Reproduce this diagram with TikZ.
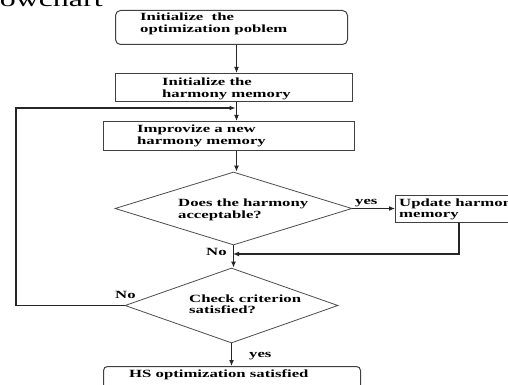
\documentclass[tikz,border=0pt]{standalone}
\usepackage{fontspec}
\setmainfont{Liberation Serif}
\newfontfamily\wideserif[FakeStretch=1.52]{Liberation Serif}
\usetikzlibrary{shapes.geometric,arrows.meta}
\begin{document}
\begin{tikzpicture}[x=1pt,y=-1pt,
  box/.style={draw=black!75, line width=1pt, rectangle, inner sep=0pt, anchor=north west},
  dia/.style={draw=black!70, line width=0.8pt, diamond, inner sep=0pt},
  txt/.style={font=\wideserif\bfseries\fontsize{11}{12}\selectfont, anchor=base west, inner sep=0pt},
  arr/.style={line width=1.2pt, draw=black!85, -{Latex[length=6pt,width=5pt]}},
  ln/.style={line width=1.2pt, draw=black!85}]
\useasboundingbox (0,0) rectangle (508,385);
\clip (0,0) rectangle (508,385);
% title (cut off at the top)
\node[font=\wideserif\fontsize{21}{24}\selectfont, anchor=base west, inner sep=0pt] (title) at (-27,7) {Flowchart};
% boxes
\node[box, rounded corners=5pt, minimum width=232pt, minimum height=34pt] (b1) at (115,10) {};
\node[box, minimum width=237pt, minimum height=28pt] (b2) at (115,73) {};
\node[box, minimum width=251pt, minimum height=29pt] (b3) at (103,121) {};
\node[dia, minimum width=237pt, minimum height=73pt] (d1) at (233.5,208.5) {};
\node[box, minimum width=130pt, minimum height=27pt] (up) at (395,195) {};
\node[dia, minimum width=213pt, minimum height=75pt] (d2) at (231.5,305.5) {};
\node[box, rounded corners=4pt, minimum width=257pt, minimum height=30pt] (fb) at (103,366) {};
% texts
\node[txt] (t1a) at (140,21) {Initialize\ \ the};
\node[txt] (t1b) at (140,33) {optimization poblem};
\node[txt] (t2a) at (162,86) {Initialize the};
\node[txt] (t2b) at (162,97.5) {harmony memory};
\node[txt] (t3a) at (137,132) {Improvize a new};
\node[txt] (t3b) at (137,144) {harmony memory};
\node[txt] (t4a) at (178,206) {Does the harmony};
\node[txt] (t4b) at (178,218) {acceptable?};
\node[txt] (t5a) at (399,206) {Update harmony};
\node[txt] (t5b) at (399,217.5) {memory};
\node[txt] (t6a) at (189,302) {Check criterion};
\node[txt] (t6b) at (189,313.5) {satisfied?};
\node[txt] (t7) at (129,377) {HS optimization satisfied};
\node[txt] (lyes1) at (355,204) {yes};
\node[txt] (lno1) at (206,255) {No};
\node[txt] (lno2) at (115,298) {No};
\node[txt] (lyes2) at (249,357) {yes};
% helper coordinates
\coordinate (ax) at (236.5,0);
\coordinate (lx) at (16,0);
\coordinate (ly) at (0,108);
\coordinate (ux) at (459,0);
\coordinate (my) at (0,254);
% connectors
\draw[arr] (b1.south -| ax) -- (b2.north -| ax);
\draw[arr] (b2.south -| ax) -- (b3.north -| ax);
\draw[arr] (b3.south -| ax) -- (d1.north -| ax);
\draw[arr] (d1.east) -- (up.west |- d1.east);
\draw[arr] (up.south -| ux) -- (ux |- my) -- (233,254);
\draw[arr] (d1.south) -- (d1.south |- d2.north);
\draw[arr] (d2.west) -- (d2.west -| lx) -- (lx |- ly) -- (235.5,108);
\draw[arr] (d2.south) -- (fb.north -| d2.south);
\end{tikzpicture}
\end{document}
